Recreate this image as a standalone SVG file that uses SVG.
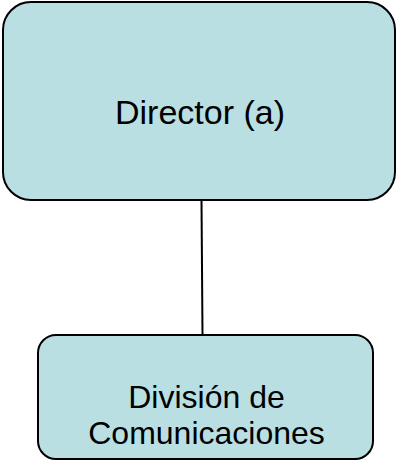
<svg xmlns="http://www.w3.org/2000/svg" width="397" height="461" viewBox="0 0 397 461">
  <style>
    .box { fill: #b9dfe3; stroke: #000; stroke-width: 2; }
    .label { font-family: "Liberation Sans", Arial, sans-serif; font-size: 32px; fill: #000; text-anchor: middle; }
    .big { font-size: 34px; }
    .link { stroke: #000; stroke-width: 2; fill: none; }
  </style>
  <rect width="397" height="461" fill="#fff"/>
  <g id="connectors">
    <line class="link" x1="201.5" y1="200" x2="202.5" y2="335"/>
  </g>
  <g id="director">
    <rect class="box" x="3" y="2" width="392" height="198" rx="28" ry="28"/>
    <text class="label big" x="200" y="123.5">Director (a)</text>
  </g>
  <g id="division-comunicaciones">
    <rect class="box" x="38" y="335" width="335" height="124" rx="18" ry="18"/>
    <text class="label" x="206.5" y="408">División de</text>
    <text class="label" x="206.5" y="444">Comunicaciones</text>
  </g>
</svg>
